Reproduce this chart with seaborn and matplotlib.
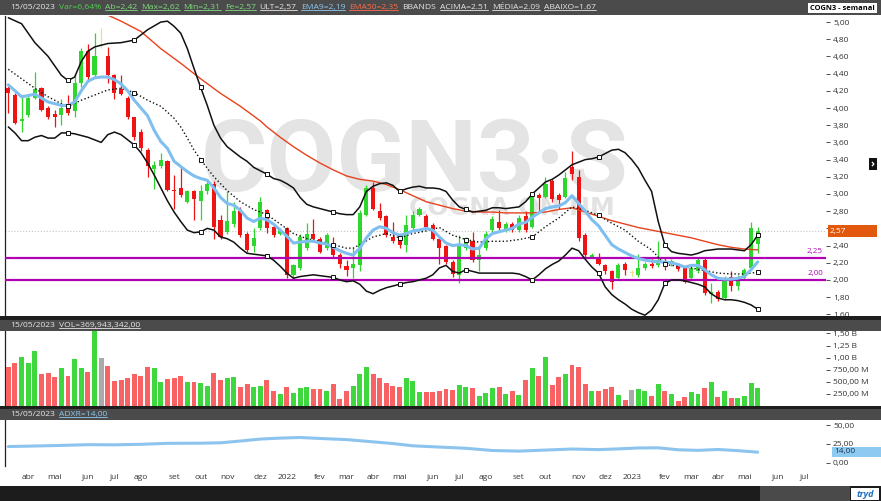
import numpy as np
import pandas as pd
import matplotlib
matplotlib.use("Agg")
import matplotlib.pyplot as plt
import seaborn as sns
from matplotlib.patches import Rectangle
from matplotlib.lines import Line2D

sns.set_style("white")
plt.rcParams['font.family'] = ['Open Sans', 'DejaVu Sans']

W, H = 881, 501

# ---- weekly candles COGN3 (15/03/2021 .. 15/05/2023) ----
opens = [4.23, 4.15, 3.85, 3.92, 4.12, 4.23, 4.00, 3.93, 3.92, 4.00,
         3.96, 4.29, 4.66, 4.38, 4.73, 4.61, 4.38, 4.22, 4.12, 3.89,
         3.72, 3.51, 3.29, 3.32, 3.38, 3.05, 3.07, 2.91, 3.03, 2.92,
         3.03, 3.12, 2.70, 2.56, 2.65, 2.80, 2.54, 2.39, 2.61, 2.81,
         2.62, 2.54, 2.60, 2.06, 2.14, 2.37, 2.54, 2.48, 2.37, 2.41,
         2.29, 2.16, 2.14, 2.17, 2.76, 3.07, 2.80, 2.74, 2.50, 2.49,
         2.41, 2.60, 2.76, 2.74, 2.64, 2.48, 2.39, 2.21, 2.06, 2.37,
         2.45, 2.23, 2.37, 2.58, 2.67, 2.58, 2.65, 2.58, 2.74, 2.62,
         2.99, 2.97, 3.15, 2.99, 2.97, 3.31, 3.20, 2.52, 2.27, 2.27,
         2.17, 2.10, 2.02, 2.18, 2.08, 2.06, 2.14, 2.18, 2.17, 2.21,
         2.18, 2.17, 2.14, 2.02, 2.10, 2.23, 1.84, 1.86, 1.79, 2.04,
         1.93, 2.02, 2.14, 2.42]
highs = [4.26, 4.17, 4.13, 4.15, 4.42, 4.25, 4.02, 3.98, 4.11, 4.15,
         4.40, 4.70, 4.75, 4.87, 4.93, 4.71, 4.39, 4.38, 4.14, 3.90,
         3.76, 3.53, 3.38, 3.48, 3.40, 3.22, 3.33, 3.05, 3.05, 3.10,
         3.18, 3.15, 2.76, 3.03, 2.91, 2.85, 2.56, 2.60, 2.97, 2.83,
         2.64, 2.61, 2.62, 2.19, 2.53, 2.66, 2.71, 2.50, 2.55, 2.50,
         2.31, 2.23, 2.37, 2.81, 3.10, 3.14, 2.90, 2.76, 2.68, 2.51,
         2.76, 2.80, 2.85, 2.77, 2.66, 2.50, 2.41, 2.23, 2.52, 2.50,
         2.56, 2.37, 2.57, 2.74, 2.81, 2.68, 2.67, 2.75, 2.80, 3.02,
         3.01, 3.20, 3.17, 3.01, 3.26, 3.50, 3.28, 2.55, 2.31, 2.31,
         2.19, 2.12, 2.20, 2.21, 2.12, 2.30, 2.21, 2.26, 2.45, 2.27,
         2.24, 2.19, 2.16, 2.19, 2.25, 2.25, 1.96, 1.88, 2.05, 2.10,
         2.06, 2.14, 2.67, 2.62]
lows = [3.94, 3.81, 3.72, 3.90, 4.10, 3.96, 3.87, 3.78, 3.80, 3.92,
        3.90, 4.25, 4.31, 4.35, 4.70, 4.29, 4.11, 4.15, 3.87, 3.63,
        3.50, 3.20, 3.06, 3.30, 3.03, 2.82, 2.97, 2.89, 2.70, 2.70,
        3.00, 2.48, 2.48, 2.54, 2.62, 2.50, 2.33, 2.33, 2.58, 2.55,
        2.50, 2.52, 2.02, 2.02, 2.12, 2.35, 2.46, 2.31, 2.35, 2.27,
        2.14, 2.05, 2.02, 2.10, 2.74, 2.81, 2.70, 2.50, 2.43, 2.37,
        2.33, 2.58, 2.74, 2.60, 2.46, 2.19, 2.19, 2.04, 1.96, 2.35,
        2.21, 2.10, 2.35, 2.56, 2.58, 2.56, 2.56, 2.56, 2.56, 2.60,
        2.79, 2.95, 2.91, 2.83, 2.95, 3.16, 2.45, 2.27, 2.25, 2.17,
        2.07, 1.90, 2.00, 2.06, 2.05, 2.04, 2.12, 2.14, 2.15, 2.12,
        2.16, 2.11, 1.96, 2.00, 2.08, 1.83, 1.73, 1.75, 1.77, 1.87,
        1.88, 2.00, 2.12, 2.31]
closes = [4.18, 3.83, 3.87, 4.12, 4.22, 3.98, 3.89, 3.89, 4.00, 3.94,
          4.29, 4.66, 4.36, 4.61, 4.73, 4.38, 4.17, 4.16, 3.89, 3.66,
          3.53, 3.33, 3.34, 3.40, 3.05, 3.04, 2.99, 3.03, 2.94, 3.03,
          3.12, 2.62, 2.50, 2.69, 2.80, 2.52, 2.35, 2.49, 2.91, 2.60,
          2.52, 2.58, 2.06, 2.17, 2.50, 2.53, 2.48, 2.33, 2.52, 2.29,
          2.19, 2.12, 2.19, 2.78, 3.07, 2.83, 2.72, 2.52, 2.45, 2.41,
          2.64, 2.76, 2.83, 2.62, 2.48, 2.37, 2.21, 2.07, 2.41, 2.45,
          2.23, 2.29, 2.54, 2.71, 2.60, 2.65, 2.58, 2.72, 2.58, 2.99,
          2.95, 3.12, 2.94, 2.93, 3.19, 3.23, 2.49, 2.29, 2.29, 2.19,
          2.10, 1.98, 2.17, 2.12, 2.08, 2.14, 2.18, 2.16, 2.23, 2.18,
          2.22, 2.13, 1.98, 2.14, 2.23, 1.85, 1.86, 1.78, 2.02, 1.93,
          2.04, 2.12, 2.60, 2.57]
volume_m = [806, 894, 1009, 894, 1131, 657, 691, 603, 779, 623,
            968, 779, 704, 1560, 988, 826, 521, 542, 582, 657,
            623, 806, 785, 501, 562, 589, 623, 501, 487, 481,
            420, 684, 542, 582, 603, 386, 460, 399, 420, 542,
            318, 257, 399, 271, 372, 386, 345, 359, 305, 460,
            142, 318, 420, 663, 806, 663, 589, 481, 420, 399,
            582, 521, 298, 298, 298, 318, 352, 339, 440, 386,
            366, 210, 278, 379, 393, 244, 305, 223, 542, 779,
            630, 1016, 440, 603, 663, 853, 806, 447, 318, 318,
            359, 399, 237, 115, 332, 359, 305, 210, 460, 305,
            257, 108, 190, 298, 244, 372, 501, 196, 318, 162,
            162, 210, 467, 370]

# ---- indicators (week number, value) ----
bb_up_idx = [1, 3, 5, 7, 9, 10, 11, 12, 13, 14, 16, 18, 20, 22] + list(range(24, 115))
bb_up = [5.05, 4.98, 4.76, 4.60, 4.38, 4.32, 4.36, 4.54, 4.66, 4.71, 4.75, 4.76, 4.79, 4.91,
         5.00, 5.01, 4.95, 4.87, 4.69, 4.46, 4.24, 4.03, 3.80, 3.65, 3.55, 3.49, 3.43, 3.38,
         3.31, 3.27, 3.23,
         3.18, 3.16, 3.12, 3.07, 2.96, 2.88, 2.85, 2.83, 2.81, 2.79, 2.77, 2.76, 2.76, 2.85,
         3.03, 3.09, 3.12, 3.13, 3.10, 3.03, 3.06, 3.08, 3.09, 3.07, 3.07, 3.06, 3.03, 2.93,
         2.85, 2.82, 2.79, 2.80, 2.81, 2.84, 2.84, 2.83, 2.84, 2.85, 2.91, 3.00,
         3.07, 3.14, 3.17, 3.22, 3.28, 3.34, 3.37, 3.40, 3.41, 3.43, 3.47, 3.51, 3.52, 3.48,
         3.40, 3.30, 3.16, 3.03, 2.68, 2.41, 2.33, 2.31, 2.30, 2.29, 2.31, 2.34, 2.35, 2.36,
         2.36, 2.36, 2.35, 2.34, 2.41, 2.52]
bb_low_idx = list(range(1, 115))
bb_low = [3.78, 3.71, 3.62, 3.62, 3.66, 3.68, 3.65, 3.65, 3.71, 3.71, 3.70, 3.68, 3.66, 3.63,
          3.60, 3.69, 3.72, 3.69, 3.63, 3.57, 3.48, 3.36, 3.22, 3.07, 2.92, 2.79, 2.68, 2.58,
          2.55, 2.56, 2.60, 2.58, 2.50, 2.48, 2.44, 2.37, 2.31, 2.30, 2.29, 2.28,
          2.23, 2.16, 2.08, 2.02, 2.04, 2.05, 2.06, 2.05, 2.04, 2.03, 2.00, 1.98, 1.99, 1.95,
          1.87, 1.84, 1.88, 1.91, 1.93, 1.95, 1.97, 1.98, 2.00, 2.02, 2.06, 2.14, 2.17, 2.10,
          2.08, 2.12, 2.10, 2.08, 2.08, 2.08, 2.08, 2.08, 2.08, 2.07, 2.04, 2.00,
          2.06, 2.13, 2.18, 2.22, 2.29, 2.37, 2.34, 2.24, 2.15, 2.08, 1.92, 1.83, 1.77, 1.72,
          1.66, 1.62, 1.59, 1.65, 1.77, 1.96, 2.00, 2.00, 1.99, 1.97, 1.95, 1.92, 1.84, 1.79,
          1.77, 1.77, 1.76, 1.74, 1.71, 1.66]
bb_mid_idx = [1, 3, 5, 7, 9, 10, 12, 14, 16, 18, 20, 22, 24, 26, 27, 28, 29, 30, 32, 34,
              36, 38, 40, 42, 44, 46, 48, 50, 52, 53, 54, 56, 58, 60, 62, 64, 66, 68, 70, 72,
              74, 76, 78, 80, 82, 84, 86, 88, 90, 92, 94, 96, 98, 100, 102, 104, 106, 108,
              110, 112, 114]
bb_mid = [4.45, 4.34, 4.23, 4.13, 4.05, 4.02, 4.09, 4.15, 4.21, 4.23, 4.18, 4.09, 4.02, 3.88,
          3.78, 3.65, 3.51, 3.40, 3.20, 3.04, 2.91, 2.82, 2.76, 2.65, 2.54, 2.48, 2.45, 2.41,
          2.37, 2.37, 2.41, 2.50, 2.54, 2.49, 2.54, 2.57, 2.61, 2.52, 2.47, 2.44, 2.45, 2.45,
          2.47, 2.50, 2.62, 2.72, 2.85, 2.81, 2.75, 2.66, 2.58, 2.45, 2.35, 2.18, 2.16, 2.14,
          2.11, 2.08, 2.07, 2.07, 2.09]
ema9_idx = [1, 2, 3, 5, 7] + list(range(9, 115))
ema9 = [4.27, 4.20, 4.13, 4.16, 4.07,
        4.03, 4.03, 4.07, 4.20, 4.31, 4.35, 4.36, 4.36, 4.33, 4.28, 4.20, 4.09, 4.00, 3.91,
        3.74, 3.61, 3.53, 3.38, 3.32, 3.26, 3.21, 3.18, 3.16, 3.07, 2.96, 2.89, 2.87, 2.81,
        2.72, 2.68, 2.72, 2.70,
        2.65, 2.58, 2.51, 2.43, 2.44, 2.45, 2.45, 2.43, 2.42, 2.38, 2.34, 2.31, 2.29, 2.37,
        2.49, 2.58, 2.62, 2.60, 2.55, 2.52, 2.54, 2.57, 2.58, 2.60, 2.58, 2.50, 2.43, 2.40,
        2.41, 2.40, 2.36, 2.37, 2.48, 2.54, 2.56, 2.58, 2.60, 2.65, 2.67, 2.73,
        2.78, 2.83, 2.85, 2.86, 2.90, 2.98, 2.89, 2.80, 2.70, 2.63, 2.52, 2.41, 2.36, 2.32,
        2.28, 2.25, 2.23, 2.22, 2.21, 2.21, 2.20, 2.18, 2.15, 2.17, 2.17, 2.12, 2.06, 2.02,
        2.01, 2.01, 2.02, 2.04, 2.12, 2.21]
ema50_idx = [16, 18, 21, 24, 27, 30, 33, 36, 39] + list(range(40, 115, 2))
ema50 = [5.08, 5.01, 4.89, 4.69, 4.52, 4.34, 4.17, 4.02, 3.85,
         3.78, 3.66, 3.55, 3.45, 3.36, 3.28, 3.21, 3.17, 3.15, 3.11, 3.05, 2.98, 2.91, 2.87,
         2.83, 2.80, 2.79, 2.79, 2.78, 2.78, 2.78, 2.79, 2.82, 2.84, 2.79, 2.74, 2.69, 2.65,
         2.61, 2.58, 2.55, 2.52, 2.49, 2.45, 2.41, 2.38, 2.36, 2.35]
adxr_idx = [1, 8, 13, 17, 21, 25, 30, 33, 36, 39, 42, 45, 48, 52, 56, 59, 62, 66, 70, 74,
            78, 82, 86, 90, 93, 96, 99, 102, 105, 108, 111, 114]
adxr = [21.5, 22.8, 24.0, 23.8, 24.5, 25.8, 26.0, 26.5, 28.9, 31.5, 32.8, 33.6, 32.3, 30.8,
        27.8, 25.5, 22.5, 20.8, 19.2, 16.2, 15.4, 16.8, 18.2, 17.4, 18.4, 19.6, 19.8, 17.2,
        16.4, 17.6, 16.0, 14.0]
marker_weeks = [10, 20, 30, 40, 50, 60, 70, 80, 90, 100, 114]
levels = [2.25, 2.00]
last_price = 2.57

fig = plt.figure(figsize=(W / 100, H / 100), dpi=100)
fig.patch.set_facecolor('white')


def frac(x0, y0, x1, y1):
    return [x0 / W, 1 - y1 / H, (x1 - x0) / W, (y1 - y0) / H]


def band(x0, y0, x1, y1, color, z=5):
    fig.add_artist(Rectangle((x0 / W, 1 - y1 / H), (x1 - x0) / W, (y1 - y0) / H,
                             transform=fig.transFigure, facecolor=color,
                             edgecolor='none', zorder=z))


def comma(v, d=2):
    return f"{v:.{d}f}".replace('.', ',')


ax = fig.add_axes(frac(5, 16, 826, 316))
ax_vol = fig.add_axes(frac(5, 331, 826, 406))
ax_adx = fig.add_axes(frac(5, 420, 826, 466))
for a in (ax, ax_vol, ax_adx):
    a.set_xlim(0.5, 124.3)
    a.set_facecolor('white')
    for s in ('top', 'right', 'bottom'):
        a.spines[s].set_visible(False)
    a.spines['left'].set_color('#222222')
    a.spines['left'].set_linewidth(0.9)
    a.yaxis.tick_right()
    a.tick_params(axis='y', direction='out', length=3, width=0.6, colors='#333333',
                  labelsize=6, pad=2)
    a.set_xticks([])

# ---- main price panel ----
idx = np.arange(1, len(closes) + 1)
o, h, l, c = map(np.array, (opens, highs, lows, closes))
cols = np.where(c > o, '#2ed62e', np.where(c < o, '#ee1414', '#e8e08c'))
ax.vlines(idx, l, h, colors=cols, lw=0.9, zorder=3)
ax.bar(idx, np.maximum(np.abs(c - o), 0.01), bottom=np.minimum(o, c), width=0.62,
       color=cols, linewidth=0, zorder=4)

for lv in levels:
    ax.axhline(lv, color='#b000b4', lw=1.6, zorder=4.5)
ax.axhline(last_price, color='#c4c4c4', lw=0.8, ls=':', zorder=2)

sns.lineplot(x=ema50_idx, y=ema50, ax=ax, color='#e8421c', lw=1.0, zorder=5)
sns.lineplot(x=bb_up_idx, y=bb_up, ax=ax, color='#111111', lw=1.1, zorder=5)
sns.lineplot(x=bb_low_idx, y=bb_low, ax=ax, color='#111111', lw=1.1, zorder=5)
sns.lineplot(x=bb_mid_idx, y=bb_mid, ax=ax, color='#111111', lw=1.0, ls=':', zorder=5)
sns.lineplot(x=ema9_idx, y=ema9, ax=ax, color='#7fbff0', lw=2.2, zorder=6)
for xs, ys in ((bb_up_idx, bb_up), (bb_mid_idx, bb_mid), (bb_low_idx, bb_low)):
    d = dict(zip(xs, ys))
    ax.plot(marker_weeks, [d[w] for w in marker_weeks], ls='none', marker='s', ms=3.4,
            mfc='white', mec='#111111', mew=0.7, zorder=7)

ax.text(415 / W, 1 - 191 / H, 'COGN3·S', transform=fig.transFigure, ha='center',
        va='baseline', fontsize=73, fontweight='bold', family='Roboto', color='#e4e4e4',
        zorder=1)
ax.text(512 / W, 1 - 215 / H, 'COGNA ON NM', transform=fig.transFigure, ha='center',
        va='baseline', fontsize=18, fontweight='bold', family='DejaVu Sans', color='#e2e2e2',
        zorder=1)

ax.set_ylim(1.581, 5.07)
pticks = [round(1.6 + 0.2 * i, 2) for i in range(18)]
# the 2,60 label sits under the last-price tag
ax.set_yticks(pticks, ['' if abs(v - 2.6) < 1e-6 else comma(v) for v in pticks])
ax.set_ylabel('')

# ---- volume panel ----
vol = np.array(volume_m) * 1e6
vcols = np.where(c > o, '#3ed83e', np.where(c < o, '#f86262', '#aaaaaa'))
ax_vol.bar(idx, vol, width=0.75, color=vcols, linewidth=0, zorder=3)
ax_vol.set_ylim(0, 1.55e9)
vt = [250e6, 500e6, 750e6, 1e9, 1.25e9, 1.5e9]
ax_vol.set_yticks(vt, ['250,00 M', '500,00 M', '750,00 M', '1,00 B', '1,25 B', '1,50 B'])

# ---- ADXR panel ----
sns.lineplot(x=adxr_idx, y=adxr, ax=ax_adx, color='#8cc4ee', lw=2.2)
ax_adx.set_ylim(-4.5, 57)
ax_adx.set_yticks([0, 25, 50], ['0,00', '25,00', '50,00'])
ax_adx.set_ylabel('')

start = pd.Timestamp('2021-03-15')
month_names = ['jan', 'fev', 'mar', 'abr', 'mai', 'jun', 'jul', 'ago', 'set', 'out', 'nov', 'dez']
tick_pos, tick_lab = [], []
for m in pd.date_range('2021-04-01', '2023-07-01', freq='MS'):
    first_mon = m + pd.Timedelta(days=(7 - m.weekday()) % 7)
    tick_pos.append(1 + (first_mon - start).days / 7)
    tick_lab.append(str(m.year) if m.month == 1 else month_names[m.month - 1])
ax_adx.set_xticks(tick_pos, tick_lab)
ax_adx.tick_params(axis='x', direction='out', length=4, width=0.6, colors='#333333',
                   labelsize=6, pad=2)

# ---- frame bars ----
band(0, 0, W, 15, '#4b4b4b')
band(0, 316, W, 320, '#1e1e1e')
band(0, 320, W, 331, '#4b4b4b')
band(0, 406, W, 409, '#1e1e1e')
band(0, 409, W, 420, '#4b4b4b')
band(0, 486, W, H, '#1c1c1c')
band(760, 486, 850, H, '#4a4a4a')
band(851, 488, 879, 500, 'white', 6)
fig.text(865 / W, 1 - 494.5 / H, 'tryd', color='#1f6fc0', fontsize=6.5, fontweight='bold',
         style='italic', ha='center', va='center', zorder=7)
band(808, 3, 877, 13, 'white', 6)
fig.text(842 / W, 1 - 8 / H, 'COGN3 - semanal', color='black', fontsize=5.4,
         fontweight='bold', ha='center', va='center', zorder=7)

# right-side price tags
band(828, 225, 877, 237, '#e2580e', 6)
fig.text(830 / W, 1 - 231 / H, comma(last_price), color='white', fontsize=6, va='center',
         zorder=7)
band(869, 158, 877, 170, '#111111', 6)
fig.text(873 / W, 1 - 164 / H, '›', color='white', fontsize=8, fontweight='bold',
         ha='center', va='center', zorder=7)
fig.text(823 / W, 1 - 251 / H, comma(levels[0]), color='#b000b4', fontsize=5.8,
         ha='right', va='center', zorder=7)
fig.text(823 / W, 1 - 273 / H, comma(levels[1]), color='#b000b4', fontsize=5.8,
         ha='right', va='center', zorder=7)
band(832, 447, W, 457, '#8ec9f2', 6)
fig.text(834 / W, 1 - 452 / H, '14,00', color='#1b3550', fontsize=6, va='center', zorder=7)

renderer = fig.canvas.get_renderer()


def write_row(y, parts, x=10, size=6.1):
    for txt, col, ul in parts:
        t = fig.text(x / W, 1 - y / H, txt, color=col, fontsize=size, va='center',
                     ha='left', zorder=7)
        bb = t.get_window_extent(renderer)
        if ul:
            fig.add_artist(Line2D([bb.x0 / W, bb.x1 / W], [(bb.y0 + 1) / H] * 2, color=col,
                                  lw=0.6, transform=fig.transFigure, zorder=7))
        x = bb.x1 + 4


wht, grn = '#e6e6e6', '#7edc7e'
write_row(7.5, [('15/05/2023', wht, False), ('Var=6,64%', '#4fd24f', False),
                ('Ab=2,42', grn, True), ('Max=2,62', grn, True), ('Min=2,31', grn, True),
                ('Fe=2,57', grn, True), ('ULT=2,57', wht, True), ('EMA9=2,19', '#8ec9f2', True),
                ('EMA50=2,35', '#ff6a48', True), ('BBANDS', wht, False),
                ('ACIMA=2.51', wht, True), ('MÉDIA=2.09', wht, True),
                ('ABAIXO=1.67', wht, True)])
write_row(325.5, [('15/05/2023', wht, False), ('VOL=369,943,342,00', wht, True)])
write_row(414.5, [('15/05/2023', wht, False), ('ADXR=14,00', '#8ec9f2', True)])

fig.savefig('out.png', dpi=100)
